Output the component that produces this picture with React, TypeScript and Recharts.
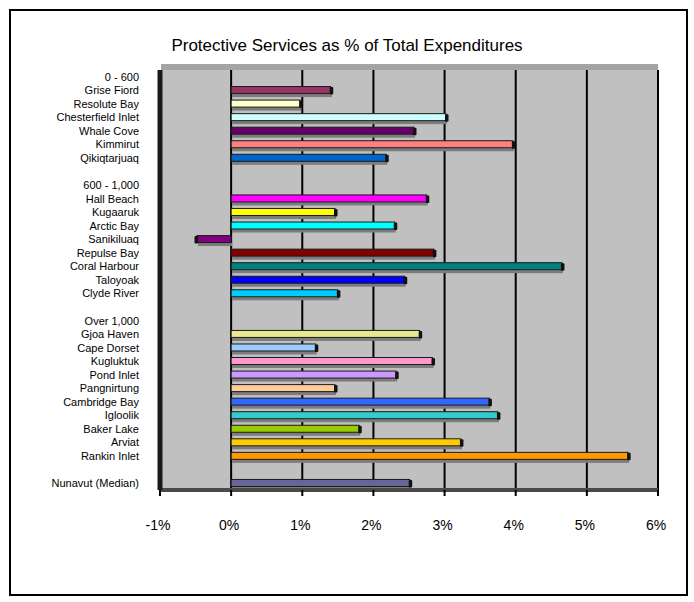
import React from 'react';
import { BarChart, Bar, XAxis, YAxis, CartesianGrid, Cell } from 'recharts';

const categories = [
    '0 - 600', 'Grise Fiord', 'Resolute Bay', 'Chesterfield Inlet', 'Whale Cove', 'Kimmirut', 'Qikiqtarjuaq',
    ' ',
    '600 - 1,000', 'Hall Beach', 'Kugaaruk', 'Arctic Bay', 'Sanikiluaq', 'Repulse Bay', 'Coral Harbour', 'Taloyoak', 'Clyde River',
    '  ',
    'Over 1,000', 'Gjoa Haven', 'Cape Dorset', 'Kugluktuk', 'Pond Inlet', 'Pangnirtung', 'Cambridge Bay', 'Igloolik', 'Baker Lake', 'Arviat', 'Rankin Inlet',
    '   ',
    'Nunavut (Median)',
];

const values: (number | null)[] = [
    null, 1.40, 0.97, 3.02, 2.57, 3.96, 2.18,
    null,
    null, 2.75, 1.46, 2.30, -0.48, 2.85, 4.65, 2.44, 1.50,
    null,
    null, 2.65, 1.19, 2.83, 2.32, 1.46, 3.63, 3.75, 1.80, 3.23, 5.58,
    null,
    2.51,
];

const barColors = [
    '', '#993366', '#FFFFCC', '#CCFFFF', '#660066', '#FF8080', '#0066CC',
    '',
    '', '#FF00FF', '#FFFF00', '#00FFFF', '#800080', '#800000', '#008080', '#0000FF', '#00CCFF',
    '',
    '', '#E8E890', '#99CCFF', '#FF99CC', '#CC99FF', '#FFCC99', '#3366FF', '#33CCCC', '#99CC00', '#FFCC00', '#FF9900',
    '',
    '#666699',
];

const xTicks = [-1, 0, 1, 2, 3, 4, 5, 6];

const data = categories.map((name, i) => ({ name, value: values[i] }));

const FONT = '"Liberation Sans", Arial, sans-serif';

// bar with a dark end cap and a shadow under it, like the old 3D excel look
const Bar3D = (props: any) => {
    const { x, y, width, height, fill } = props;
    if (width == null || Math.abs(width) < 0.5) return <g />;
    const neg = width < 0;
    const x0 = neg ? x + width : x;
    const w = Math.abs(width);
    const capX = neg ? x0 - 2.5 : x0 + w - 1;
    return (
        <g>
            <rect x={x0 + 1} y={y + height} width={w} height={3.5} fill="#7c7c7c" />
            <rect x={x0} y={y} width={w} height={height} fill={fill} stroke="#1a1a1a" strokeWidth={1} />
            <rect x={capX} y={y + 0.5} width={3.5} height={height + 0.5} rx={1} fill="#111" />
        </g>
    );
};

const XTick = (props: any) => {
    const { x, y, payload } = props;
    return (
        <text x={x - 2} y={y} dy={10} textAnchor="middle" fontSize={14} fontFamily={FONT} fill="#000">
            {payload.value + '%'}
        </text>
    );
};

const App: React.FC = () => {
    return (
        <div style={{ position: 'absolute', left: 0, top: 0, width: 694, height: 602, background: '#fff' }}>
            <div
                style={{
                    position: 'absolute', left: 9, top: 9, width: 675, height: 583,
                    border: '2px solid #000',
                }}
            />
            <div style={{ position: 'absolute', left: 161, top: 64, width: 497, height: 6, background: '#a4a4a4' }} />
            <div
                style={{
                    position: 'absolute', left: 0, top: 36, width: 694, textAlign: 'center',
                    fontFamily: FONT, fontSize: 17, color: '#000',
                }}
            >
                Protective Services as % of Total Expenditures
            </div>
            <div style={{ position: 'absolute', left: 0, top: 0 }}>
                <BarChart
                    width={694}
                    height={602}
                    data={data}
                    layout="vertical"
                    barSize={7}
                    margin={{ top: 70, right: 36, left: 10, bottom: 82 }}
                >
                    <CartesianGrid horizontal={false} vertical={true} fill="#c0c0c0" stroke="#000" strokeWidth={2} strokeOpacity={1} />
                    <XAxis
                        type="number"
                        domain={[-1, 6]}
                        ticks={xTicks}
                        allowDataOverflow
                        height={30}
                        axisLine={{ stroke: '#4a4a4a', strokeWidth: 4 }}
                        tickLine={{ stroke: '#000', strokeWidth: 2 }}
                        tickSize={6}
                        tickMargin={24}
                        tick={<XTick />}
                        interval={0}
                    />
                    <YAxis
                        type="category"
                        dataKey="name"
                        width={150}
                        interval={0}
                        axisLine={{ stroke: '#1a1a1a', strokeWidth: 5 }}
                        tickLine={false}
                        tickSize={6}
                        tickMargin={15}
                        tick={{ fontSize: 11, fill: '#000', fontFamily: FONT }}
                    />
                    <Bar dataKey="value" shape={<Bar3D />} isAnimationActive={false}>
                        {data.map((d, i) => (
                            <Cell key={d.name + i} fill={barColors[i] || '#000'} />
                        ))}
                    </Bar>
                </BarChart>
            </div>
        </div>
    );
};

export default App;
